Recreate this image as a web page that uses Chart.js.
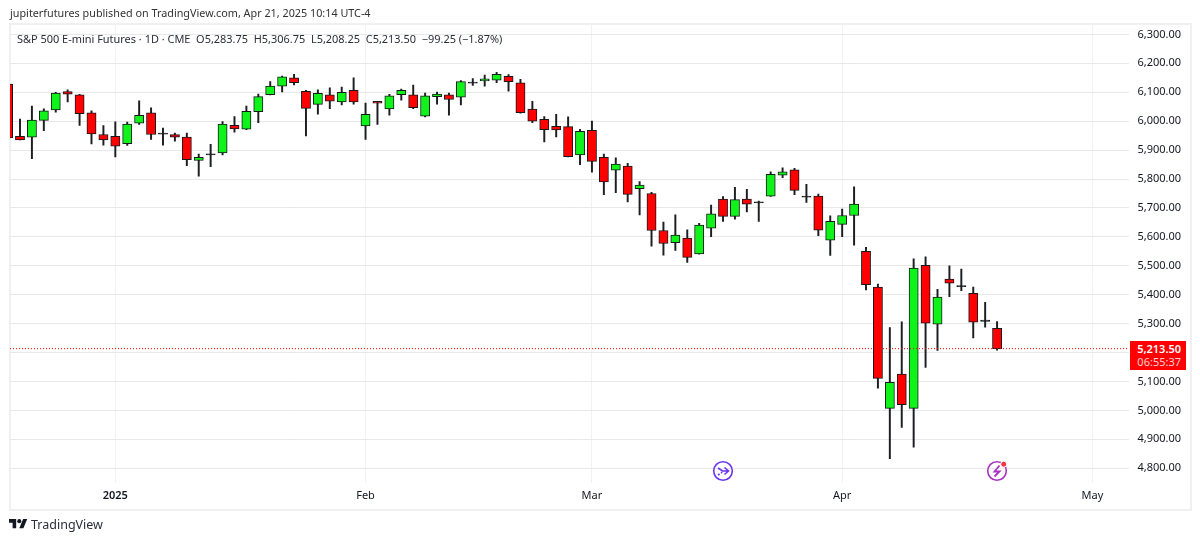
<!DOCTYPE html>
<html>
<head>
<meta charset="utf-8">
<title>S&amp;P 500 E-mini Futures</title>
<script src="https://cdn.jsdelivr.net/npm/chart.js@4/dist/chart.umd.js"></script>
<style>
    html, body { margin: 0; padding: 0; background: #fff; }
    body { width: 1200px; height: 542px; overflow: hidden; position: relative; font-family: "Noto Sans", sans-serif; color: #131722; }
    canvas { position: absolute; left: 0; top: 0; }
    #frame { position: absolute; left: 9px; top: 23px; width: 1179px; height: 484px; border: 2px solid #f0f0f0; }
    .txt { position: absolute; white-space: pre; }
    #published { left: 10px; top: 5px; font-size: 10.8px; line-height: 16px; color: #333; }
    #legend { left: 17px; top: 31px; font-size: 10.95px; line-height: 16px; color: #2a2e39; }
    #last-box { position: absolute; left: 1130px; width: 56px; height: 29px; background: #ff0000; color: #fff; text-align: right; font-size: 11px; line-height: 13px; }
    #last-box div { padding-right: 5px; }
    #last-price { font-weight: 600; margin-top: 1.5px; }
    #last-timer { opacity: .8; }
    .icon { position: absolute; }
    #brand { left: 31px; top: 516px; font-size: 12.5px; line-height: 18px; color: #2a2e39; }
</style>
</head>
<body>
<div id="frame"></div>
<canvas id="chart" width="1200" height="542"></canvas>
<div class="txt" id="published">jupiterfutures published on TradingView.com, Apr 21, 2025 10:14 UTC-4</div>
<div class="txt" id="legend"></div>
<div id="last-box"><div id="last-price"></div><div id="last-timer"></div></div>

<svg class="icon" style="left:712px;top:460px" width="22" height="22" viewBox="0 0 22 22" fill="none" stroke="#6a35f0" stroke-width="1.6">
    <circle cx="11" cy="11" r="9.3"/>
    <path d="M6 8l4.5 3h5.5M12.5 7.5l4 3.5-4 3.5M6 15l1.6-1M9 13l1.2-.8"/>
</svg>
<svg class="icon" style="left:986px;top:460px" width="22" height="22" viewBox="0 0 22 22" fill="none" stroke="#a832c2" stroke-width="1.6">
    <circle cx="11" cy="11" r="9.3"/>
    <path d="M13.5 5.5l-5 6h5l-5 5" stroke-width="1.8"/>
    <circle cx="17.7" cy="4.2" r="3" fill="#f23645" stroke="#fff" stroke-width="1"/>
</svg>
<svg class="icon" style="left:9px;top:518px" width="19" height="13" viewBox="0 2 37 25" fill="#131722">
    <path d="M14 22H7V11H0V4h14v18zM28 22h-8l7.5-18h8L28 22z"/>
    <circle cx="20" cy="8" r="4"/>
</svg>
<div class="txt" id="brand">TradingView</div>

<script>
// daily candles, first one is cut off by the left edge of the pane
const opens = [
    6128,5948,5945,6003,6039,6102,6091,6029,5954,5948,
    5922,5993,6029,5959,5954,5945,5864,5887,5890,5986,
    5972,6033,6092,6121,6150,6103,6058,6091,6067,6107,
    5984,6069,6042,6092,6091,6017,6085,6091,6083,6135,
    6139,6142,6155,6133,6042,6006,5982,5981,5883,5968,
    5875,5831,5845,5767,5750,5622,5580,5596,5541,5630,
    5731,5671,5731,5721,5741,5813,5832,5741,5741,5589,
    5643,5674,5550,5426,5007,5126,5007,5502,5298,5454,
    5432,5405,5312,5283.75
];
const highs = [
    6130,6007,6052,6043,6100,6108,6093,6036,5985,5998,
    5997,6070,6046,5976,5959,5959,5886,5920,5999,6016,
    6052,6094,6137,6156,6162,6107,6108,6115,6118,6150,
    6063,6069,6093,6111,6125,6097,6101,6097,6140,6147,
    6159,6169,6161,6145,6069,6016,6024,6015,5972,6000,
    5886,5873,5854,5791,5754,5651,5676,5624,5647,5710,
    5739,5771,5764,5724,5825,5839,5837,5782,5748,5673,
    5696,5773,5564,5437,5286,5306,5524,5531,5419,5500,
    5489,5426,5374,5306.75
];
const lows = [
    5940,5935,5870,5967,6031,6067,5985,5921,5917,5876,
    5916,5989,5937,5917,5931,5846,5810,5843,5883,5962,
    5971,5995,6091,6101,6125,5949,6024,6043,6056,6059,
    5937,5989,6021,6073,6043,6015,6059,6021,6056,6124,
    6121,6133,6104,6028,5995,5928,5946,5876,5850,5824,
    5746,5753,5721,5676,5568,5537,5553,5512,5540,5601,
    5653,5661,5686,5653,5740,5805,5746,5719,5604,5536,
    5601,5571,5417,5077,4833,4941,4873,5149,5207,5393,
    5414,5251,5288,5208.25
];
const closes = [
    5942,5935,6004,6036,6097,6093,6026,5956,5935,5914,
    5990,6020,5954,5955,5945,5867,5875,5883,5990,5973,
    6034,6085,6121,6153,6133,6044,6096,6069,6100,6067,
    6024,6062,6088,6107,6047,6088,6094,6075,6137,6131,
    6146,6162,6137,6029,6000,5971,5970,5877,5965,5861,
    5790,5852,5747,5779,5622,5577,5606,5529,5641,5680,
    5671,5729,5713,5717,5816,5825,5761,5737,5623,5654,
    5674,5713,5435,5111,5097,5020,5492,5302,5392,5440,
    5428,5305,5308,5213.5
];

// session number of each month start, May is past the last candle
const monthLabels = ['2025', 'Feb', 'Mar', 'Apr', 'May'];
const monthSessions = [9, 30, 49, 70, 91];
const priceTicks = [6300, 6200, 6100, 6000, 5900, 5800, 5700, 5600, 5500, 5400, 5300, 5200, 5100, 5000, 4900, 4800];

const lastOpen = 5283.75, lastHigh = 5306.75, lastLow = 5208.25, lastClose = 5213.50;
const change = '\u221299.25', changePct = '\u22121.87%', timer = '06:55:37';

const UP = '#10f31a', DOWN = '#ff0000', EDGE = '#16181c';
const fmt = v => v.toLocaleString('en-US', { minimumFractionDigits: 2, maximumFractionDigits: 2 });

// body colour, a doji is only a black dash
function bodyColor(o, c) {
    if (Math.abs(o - c) < 6) return EDGE;
    return c >= o ? UP : DOWN;
}

const xMin = 0.161, xMax = 94.03;

const chart = new Chart(document.getElementById('chart'), {
    data: {
        datasets: [
            {
                type: 'bar',
                grouped: false,
                order: 3,
                barThickness: 1.3,
                backgroundColor: '#1c1e22',
                data: opens.map((_, i) => ({ x: i, y: [lows[i], highs[i]] }))
            },
            {
                type: 'bar',
                grouped: false,
                order: 2,
                barThickness: 9.2,
                borderWidth: 1,
                borderSkipped: false,
                borderColor: EDGE,
                backgroundColor: opens.map((o, i) => bodyColor(o, closes[i])),
                data: opens.map((o, i) => ({ x: i, y: [o, closes[i]] }))
            },
            {
                type: 'line',
                order: 1,
                borderColor: '#ff0000',
                borderWidth: 1,
                borderDash: [1, 2],
                pointRadius: 0,
                data: [{ x: xMin, y: lastClose }, { x: xMax, y: lastClose }]
            }
        ]
    },
    options: {
        responsive: false,
        animation: false,
        devicePixelRatio: 1,
        layout: { padding: { left: 10, top: 24, right: 10, bottom: 33 } },
        plugins: { legend: { display: false }, tooltip: { enabled: false } },
        scales: {
            x: {
                type: 'linear',
                offset: false,
                min: xMin,
                max: xMax,
                afterBuildTicks: s => { s.ticks = monthSessions.map(v => ({ value: v })); },
                afterFit: s => { s.height = 26; },
                grid: { color: '#f2f2f2', drawTicks: false, offset: false },
                border: { display: false },
                ticks: {
                    autoSkip: false,
                    maxRotation: 0,
                    padding: 6,
                    color: '#131722',
                    font: ctx => ({
                        family: '"Noto Sans", sans-serif',
                        size: 11,
                        weight: ctx.tick && ctx.tick.value === monthSessions[0] ? '600' : '400'
                    }),
                    callback: v => monthLabels[monthSessions.indexOf(v)]
                }
            },
            y: {
                type: 'linear',
                position: 'right',
                min: 4749,
                max: 6336,
                afterBuildTicks: s => { s.ticks = priceTicks.map(v => ({ value: v })); },
                afterFit: s => { s.width = 61.5; },
                grid: { color: '#e8e8e8', drawTicks: false },
                border: { display: false },
                ticks: {
                    autoSkip: false,
                    crossAlign: 'near',
                    padding: 9,
                    color: '#131722',
                    font: { family: '"Noto Sans", sans-serif', size: 11 },
                    callback: v => fmt(v)
                }
            }
        }
    }
});

document.getElementById('legend').textContent =
    'S&P 500 E-mini Futures \u00b7 1D \u00b7 CME  O' + fmt(lastOpen) + '  H' + fmt(lastHigh) +
    '  L' + fmt(lastLow) + '  C' + fmt(lastClose) + '  ' + change + ' (' + changePct + ')';

document.getElementById('last-price').textContent = fmt(lastClose);
document.getElementById('last-timer').textContent = timer;
document.getElementById('last-box').style.top = (chart.scales.y.getPixelForValue(lastClose) - 8) + 'px';
</script>
</body>
</html>
